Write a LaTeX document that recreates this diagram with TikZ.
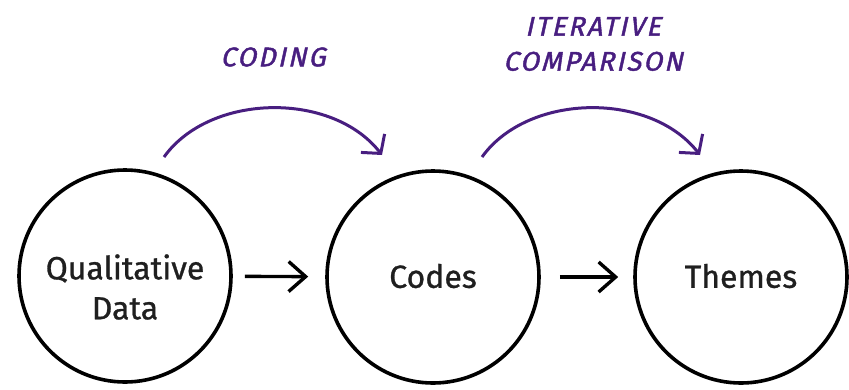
\documentclass[tikz,border=0pt]{standalone}
\usepackage{fontspec}
\setmainfont{Fira Sans}
\newfontfamily\medfont{Fira Sans}[FakeBold=0.9]
\newfontfamily\handfont{Fira Sans}[FakeBold=1.6,LetterSpace=8,FakeSlant=0.22]
\usetikzlibrary{arrows.meta}
\definecolor{hpurple}{RGB}{72,30,128}
\tikzset{
  stage/.style={circle, draw=black, line width=3.6pt, minimum size=212pt, inner sep=0pt},
  stagetext/.style={font=\medfont\fontsize{32}{40}\selectfont, align=center, text=black!88, inner sep=0pt},
  flow/.style={line width=3.4pt, -{Straight Barb[length=17pt,width=30pt,line width=3.4pt]}},
  hop/.style={hpurple, line width=3pt, -{Straight Barb[length=13pt,width=30pt,line width=3pt]}},
  hand/.style={text=hpurple, font=\handfont\fontsize{27}{35}\selectfont, align=center}
}
\begin{document}
\begin{tikzpicture}[x=1pt,y=-1pt]
\useasboundingbox (0,0) rectangle (849,389);
\node[stage] (q) at (125,276) {};
\node[stage] (c) at (433,277) {};
\node[stage] (t) at (741,277) {};
\node[stagetext] (qt) at (125,287) {Qualitative\\Data};
\node[stagetext] (ct) at (433,276) {Codes};
\node[stagetext] (tt) at (741,276) {Themes};
\draw[flow, shorten <=12pt, shorten >=17pt] (q) -- (c);
\draw[flow, shorten <=19pt, shorten >=15pt] (c) -- (t);
\coordinate (s1) at (164,157);
\coordinate (e1) at (382,155);
\coordinate (s2) at (482,157);
\coordinate (e2) at (700,155);
\draw[hop] (s1) .. controls (210,93) and (332,91) .. (e1);
\draw[hop] (s2) .. controls (528,93) and (650,91) .. (e2);
\node[hand] (l1) at (273,57) {CODING};
\node[hand] (l2) at (593,44) {ITERATIVE\\COMPARISON};
\end{tikzpicture}
\end{document}
